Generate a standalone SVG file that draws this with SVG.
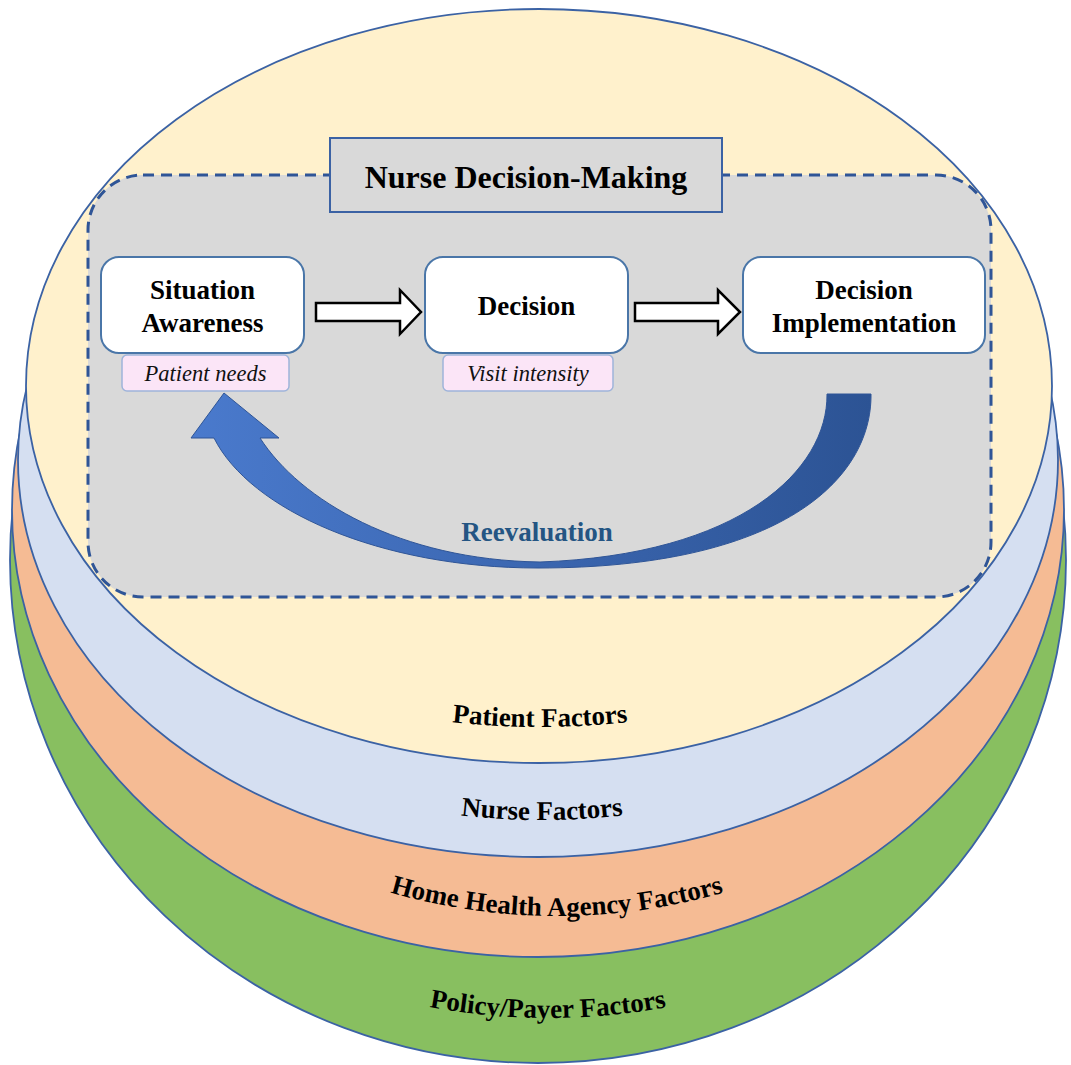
<svg xmlns="http://www.w3.org/2000/svg" width="1071" height="1065" viewBox="0 0 1071 1065">
<style>
.layer{stroke:#3b62a4;stroke-width:1.8}
.lbl{font-family:"Liberation Serif",serif;font-weight:bold;font-size:27px;fill:#000;text-anchor:middle}
.node{fill:#fff;stroke:#4a76a8;stroke-width:2}
.sub{fill:#fbe5f7;stroke:#9fb4da;stroke-width:1.5}
.subt{font-family:"Liberation Serif",serif;font-style:italic;font-size:22.5px;fill:#111;text-anchor:middle}
.blk{fill:#fff;stroke:#000;stroke-width:2.5;stroke-linejoin:miter}
</style>
<defs>
<linearGradient id="reg" x1="190" y1="0" x2="872" y2="0" gradientUnits="userSpaceOnUse">
<stop offset="0" stop-color="#4a7acd"/>
<stop offset="1" stop-color="#2c5394"/>
</linearGradient>
<path id="arcPatient" d="M 240 668.6 A 800 800 0 0 0 840 668.6"/>
<path id="arcNurse" d="M 242 752.5 A 700 700 0 0 0 842 752.5"/>
<path id="arcAgency" d="M 257 835.6 A 600 600 0 0 0 857 835.6"/>
<path id="arcPolicy" d="M 248 944.6 A 650 650 0 0 0 848 944.6"/>
</defs>
<rect width="1071" height="1065" fill="#fff"/>
<g id="policy-layer">
<ellipse class="layer" cx="538" cy="560" rx="528" ry="503" fill="#88bf60"/>
</g>
<g id="agency-layer">
<ellipse class="layer" cx="538" cy="510" rx="526" ry="447" fill="#f5bb94"/>
</g>
<g id="nurse-layer">
<ellipse class="layer" cx="538" cy="460" rx="520" ry="397" fill="#d5dff1"/>
</g>
<g id="patient-layer">
<ellipse class="layer" cx="539" cy="386" rx="513" ry="377" fill="#fff1cc"/>
</g>
<g id="layer-labels">
<text class="lbl"><textPath href="#arcPatient" startOffset="50%">Patient Factors</textPath></text>
<text class="lbl"><textPath href="#arcNurse" startOffset="50%">Nurse Factors</textPath></text>
<text class="lbl"><textPath href="#arcAgency" startOffset="50%">Home Health Agency Factors</textPath></text>
<text class="lbl"><textPath href="#arcPolicy" startOffset="50%">Policy/Payer Factors</textPath></text>
</g>
<g id="decision-frame">
<rect x="88" y="175" width="903" height="422" rx="55" ry="55" fill="#d9d9d9" stroke="#2f5597" stroke-width="3" stroke-dasharray="11 7"/>
</g>
<g id="title">
<rect x="330" y="138" width="392" height="74" fill="#d9d9d9" stroke="#3b62a4" stroke-width="2"/>
<text class="lbl" x="526" y="188" style="font-size:32px">Nurse Decision-Making</text>
</g>
<g id="connectors">
<path class="blk" d="M316 303 L400 303 L400 290 L421 312 L400 334 L400 321 L316 321 Z"/>
<path class="blk" d="M635 303 L718 303 L718 290 L740 312 L718 334 L718 321 L635 321 Z"/>
<path id="reevaluation-arrow" d="M 224 393 L 279 438 L 260 438 C 300 500, 400 560, 540 562 C 740 555, 828 470, 827 394 L 871 394 C 872 480, 780 568, 538 568 C 380 568, 250 510, 214 438 L 191 438 Z" fill="url(#reg)" stroke="#2f5597" stroke-width="1"/>
<text x="537" y="541" style="font-family:'Liberation Serif',serif;font-weight:bold;font-size:27px;fill:#245583;text-anchor:middle">Reevaluation</text>
</g>
<g id="situation-awareness">
<rect class="node" x="101" y="257" width="203" height="96" rx="18"/>
<text class="lbl" x="202.5" y="299">Situation</text>
<text class="lbl" x="202.5" y="332">Awareness</text>
<rect class="sub" x="122" y="355" width="167" height="36" rx="5"/>
<text class="subt" x="205.5" y="381">Patient needs</text>
</g>
<g id="decision">
<rect class="node" x="425" y="257" width="203" height="96" rx="18"/>
<text class="lbl" x="526.5" y="315">Decision</text>
<rect class="sub" x="443" y="355" width="170" height="36" rx="5"/>
<text class="subt" x="528" y="381">Visit intensity</text>
</g>
<g id="decision-implementation">
<rect class="node" x="743" y="257" width="242" height="96" rx="18"/>
<text class="lbl" x="864" y="299">Decision</text>
<text class="lbl" x="864" y="332">Implementation</text>
</g>
</svg>
